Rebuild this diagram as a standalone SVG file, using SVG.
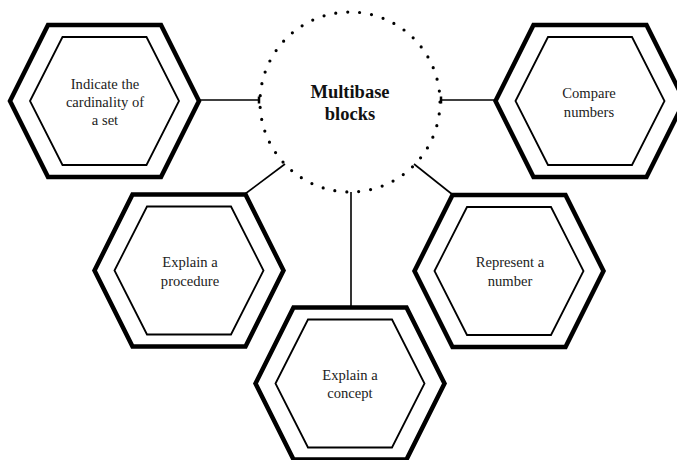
<svg xmlns="http://www.w3.org/2000/svg" width="677" height="460" viewBox="0 0 677 460">
<style>
.outer{fill:none;stroke:#000;stroke-width:4.5;stroke-linejoin:miter}
.inner{fill:none;stroke:#000;stroke-width:1.8}
.lbl{font-family:"Liberation Serif","Times New Roman",serif;font-size:14.6px;fill:#222;text-anchor:middle}
.title{font-family:"Liberation Serif","Times New Roman",serif;font-size:18.5px;font-weight:bold;fill:#111;text-anchor:middle}
.conn{stroke:#000;stroke-width:1.6;fill:none}
</style>
<defs>
<g id="hex">
<polygon class="outer" points="-94.5,0 -56.5,-76 56.5,-76 94.5,0 56.5,76 -56.5,76"/>
<polygon class="inner" points="-74.5,0 -42,-64 42,-64 74.5,0 42,64 -42,64"/>
</g>
</defs>
<rect width="677" height="460" fill="#fff"/>
<g id="connectors">
<line class="conn" x1="199" y1="100" x2="259" y2="100"/>
<line x1="259" y1="96.5" x2="259" y2="103.5" stroke="#000" stroke-width="2.5"/>
<line class="conn" x1="441" y1="100" x2="495" y2="100"/>
<line x1="441" y1="96.5" x2="441" y2="103.5" stroke="#000" stroke-width="2.5"/>
<line class="conn" x1="285" y1="164" x2="245" y2="194"/>
<line class="conn" x1="414" y1="164" x2="453" y2="195"/>
<line class="conn" x1="351" y1="192" x2="351" y2="307"/>
</g>
<g id="center">
<circle cx="350" cy="102" r="90" fill="none" stroke="#000" stroke-width="3.2" stroke-linecap="round" stroke-dasharray="0 12.032"/>
<text class="title" x="350" y="98">Multibase</text>
<text class="title" x="350" y="120">blocks</text>
</g>
<g id="node-cardinality">
<use href="#hex" x="104.5" y="101"/>
<text class="lbl" x="105" y="89">Indicate the</text>
<text class="lbl" x="105" y="107">cardinality of</text>
<text class="lbl" x="105" y="124.5">a set</text>
</g>
<g id="node-compare">
<use href="#hex" x="590" y="101"/>
<text class="lbl" x="589" y="98">Compare</text>
<text class="lbl" x="589" y="117">numbers</text>
</g>
<g id="node-procedure">
<use href="#hex" x="189" y="270.5"/>
<text class="lbl" x="190" y="267">Explain a</text>
<text class="lbl" x="190" y="286">procedure</text>
</g>
<g id="node-represent">
<use href="#hex" x="509" y="271"/>
<text class="lbl" x="510" y="267">Represent a</text>
<text class="lbl" x="510" y="286">number</text>
</g>
<g id="node-concept">
<use href="#hex" x="350" y="383.5"/>
<text class="lbl" x="350" y="380">Explain a</text>
<text class="lbl" x="350" y="398">concept</text>
</g>
</svg>
